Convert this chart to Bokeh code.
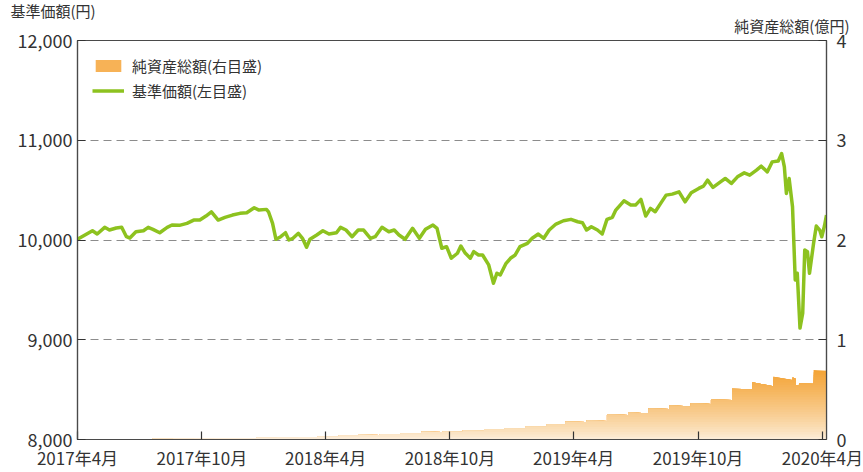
import numpy as np
import pandas as pd
from bokeh.plotting import figure
from bokeh.models import (Range1d, LinearAxis, FixedTicker, NumeralTickFormatter,
                          Legend, LegendItem, Title)
from bokeh.embed import file_html
from bokeh.resources import INLINE

FONT = "Noto Sans CJK JP"

# ---------------- data ----------------
x_start = "2017-04-01"
x_end = "2020-04-07"

x_tick_dates = ["2017-04-01", "2017-10-01", "2018-04-01", "2018-10-01",
                "2019-04-01", "2019-10-01", "2020-04-01"]
x_tick_labels = ["2017年4月", "2017年10月", "2018年4月", "2018年10月",
                 "2019年4月", "2019年10月", "2020年4月"]
nav_ticks = [8000, 9000, 10000, 11000, 12000]
aum_ticks = [0, 1, 2, 3, 4]

# 基準価額: days since 2017-04-01 and value (円)
nav_day = [0, 11, 22, 29, 40, 47, 57, 65, 72, 77,
           86, 97, 104, 111, 121, 132, 139, 150, 161, 171,
           180, 189, 197, 207, 217, 228, 239, 249, 260, 267,
           278, 281, 287, 292, 299, 306, 311, 317, 325, 331,
           337, 342, 352, 361, 370, 381, 387, 395, 404, 413,
           421, 431, 438, 448, 458, 466, 473, 482, 493, 503,
           512, 523, 529, 536, 543, 550, 559, 564, 570, 578,
           583, 590, 596, 605, 612, 617, 622, 630, 637, 644,
           651, 662, 669, 678, 686, 694, 704, 715, 726, 736,
           743, 749, 756, 765, 772, 779, 787, 792, 804, 814,
           821, 829, 836, 843, 850, 858, 866, 875, 885, 894,
           903, 914, 921, 927, 935, 946, 953, 962, 971, 981,
           989, 999, 1006, 1015, 1022, 1031, 1036, 1040, 1043, 1047,
           1052, 1056, 1059, 1063, 1067, 1070, 1074, 1077, 1083, 1087,
           1092, 1095, 1099, 1102]
nav_value = [10007, 10050, 10093, 10060, 10127, 10100, 10120, 10127, 10033, 10020,
             10083, 10093, 10127, 10107, 10073, 10127, 10150, 10147, 10167, 10200,
             10200, 10240, 10283, 10200, 10227, 10250, 10267, 10273, 10323, 10300,
             10307, 10283, 10167, 10007, 10033, 10073, 10000, 10017, 10067, 10017,
             9927, 10007, 10050, 10093, 10060, 10073, 10127, 10100, 10033, 10100,
             10100, 10017, 10033, 10127, 10083, 10100, 10050, 10007, 10117, 10017,
             10107, 10150, 10117, 9917, 9933, 9817, 9867, 9940, 9873, 9817,
             9883, 9850, 9850, 9750, 9567, 9667, 9650, 9760, 9817, 9850,
             9933, 9967, 10017, 10060, 10017, 10100, 10160, 10193, 10207, 10183,
             10173, 10100, 10133, 10100, 10060, 10207, 10227, 10300, 10393, 10350,
             10350, 10407, 10240, 10317, 10283, 10367, 10450, 10460, 10483, 10383,
             10473, 10517, 10540, 10600, 10527, 10583, 10617, 10567, 10633, 10673,
             10650, 10700, 10740, 10683, 10783, 10793, 10867, 10733, 10467, 10617,
             10333, 9600, 9667, 9117, 9267, 9900, 9883, 9667, 9967, 10140,
             10100, 10033, 10140, 10250]

# 純資産総額 (億円): value right after each inflow date and just before the next one
aum_date = ["2017-04-01", "2017-05-20", "2017-06-20", "2017-07-20", "2017-08-20",
            "2017-09-20", "2017-10-20", "2017-11-20", "2017-12-20", "2018-01-20",
            "2018-02-20", "2018-03-20", "2018-04-20", "2018-05-20", "2018-06-20",
            "2018-07-20", "2018-08-20", "2018-09-20", "2018-10-20", "2018-11-20",
            "2018-12-20", "2019-01-20", "2019-02-20", "2019-03-20", "2019-04-20",
            "2019-05-20", "2019-06-20", "2019-07-20", "2019-08-20", "2019-09-20",
            "2019-10-20", "2019-11-20", "2019-12-20", "2020-01-20", "2020-02-17",
            "2020-02-22", "2020-02-27", "2020-03-19"]
aum_open = [0.000, 0.003, 0.005, 0.007, 0.010, 0.012, 0.014, 0.016, 0.019, 0.023,
            0.026, 0.032, 0.040, 0.047, 0.056, 0.063, 0.077, 0.080, 0.090, 0.100,
            0.115, 0.132, 0.153, 0.178, 0.190, 0.250, 0.270, 0.310, 0.340, 0.365,
            0.400, 0.510, 0.573, 0.628, 0.623, 0.540, 0.565, 0.697]
aum_close = [0.002, 0.004, 0.006, 0.008, 0.010, 0.012, 0.014, 0.016, 0.019, 0.022,
             0.025, 0.031, 0.040, 0.046, 0.055, 0.062, 0.076, 0.078, 0.088, 0.099,
             0.113, 0.130, 0.150, 0.176, 0.185, 0.245, 0.262, 0.305, 0.333, 0.357,
             0.396, 0.505, 0.535, 0.597, 0.610, 0.550, 0.560, 0.690]

axis_title_left = "基準価額(円)"
axis_title_right = "純資産総額(億円)"

# ---------------- derived ----------------
t0 = pd.Timestamp(x_start)
t_end = pd.Timestamp(x_end)
nav_x = t0 + pd.to_timedelta(nav_day, unit="D")

step_d = pd.to_datetime(aum_date)
seg_end = list(step_d[1:]) + [t_end]
area_x, area_y = [], []
for d0, d1, vo, vc in zip(step_d, seg_end, aum_open, aum_close):
    area_x += [d0, d1]
    area_y += [vo, vc]
area_x = pd.to_datetime(area_x)
area_y = np.array(area_y)

def ms(ts):
    return pd.Timestamp(ts).value // 10**6

# ---------------- figure ----------------
p = figure(width=863, height=472, x_axis_type="datetime",
           x_range=Range1d(t0, t_end), y_range=Range1d(8000, 12000),
           output_backend="svg", toolbar_location=None,
           min_border_left=77, min_border_right=37,
           min_border_top=40, min_border_bottom=33)
p.background_fill_color = "white"
p.border_fill_color = "white"
p.outline_line_color = "#4a4a4a"
p.outline_line_width = 1.2

p.extra_y_ranges = {"aum": Range1d(0, 4)}

# gradient area built from horizontal colour bands
pale = np.array([253, 240, 222])
orange = np.array([244, 163, 52])
levels = np.linspace(0.025, 0.70, 28)
for k in reversed(range(len(levels))):
    top = levels[k] if k < len(levels) - 1 else 10.0
    frac = min(1.0, ((levels[k] - 0.0125) / 0.70) ** 0.8)
    c = (pale + (orange - pale) * frac).astype(int)
    col = "#%02x%02x%02x" % tuple(c)
    p.varea(x=area_x, y1=np.zeros_like(area_y), y2=np.minimum(area_y, top),
            fill_color=col, y_range_name="aum")

# zero-height area, only used for the legend swatch
legend_area = p.varea(x=[t0, t_end], y1=[0, 0], y2=[0, 0], fill_color="#f7b256",
                      y_range_name="aum")

nav_line = p.line(x=nav_x, y=nav_value, line_color="#8dc21f", line_width=3.5,
                  line_join="round")

# axes
p.xaxis.ticker = FixedTicker(ticks=[ms(d) for d in x_tick_dates], minor_ticks=[])
p.xaxis.major_label_overrides = {ms(d): l for d, l in zip(x_tick_dates, x_tick_labels)}
p.yaxis.ticker = FixedTicker(ticks=nav_ticks, minor_ticks=[])
p.yaxis.formatter = NumeralTickFormatter(format="0,0")

right = LinearAxis(y_range_name="aum", ticker=FixedTicker(ticks=aum_ticks, minor_ticks=[]))
p.add_layout(right, "right")

for ax in [p.xaxis[0], p.yaxis[0], right]:
    ax.axis_line_color = "#4a4a4a"
    ax.axis_line_width = 1.2
    ax.major_tick_line_color = "#333333"
    ax.major_tick_line_width = 1.2
    ax.major_tick_in = 8
    ax.major_tick_out = 0
    ax.minor_tick_in = 0
    ax.minor_tick_out = 0
    ax.major_label_text_font = FONT
    ax.major_label_text_color = "#333333"

p.xaxis.major_label_text_font_size = "17px"
p.xaxis.major_label_standoff = 5
p.yaxis[0].major_label_text_font_size = "18px"
p.yaxis[0].major_label_standoff = 5
right.major_label_text_font_size = "18px"
right.major_label_standoff = 10

# grid
p.xgrid.visible = False
p.ygrid.ticker = FixedTicker(ticks=[9000, 10000, 11000])
p.ygrid.grid_line_color = "#8c8c8c"
p.ygrid.grid_line_dash = "8 5"
p.ygrid.grid_line_width = 1

# axis titles as side-panel titles (right one nearest the frame, left one outer)
t_right = Title(text=axis_title_right, align="right", offset=-23, standoff=6,
                text_font=FONT, text_font_size="15px", text_font_style="normal",
                text_color="#333333", vertical_align="top")
t_left = Title(text=axis_title_left, align="left", offset=-67, standoff=-22,
               text_font=FONT, text_font_size="15px", text_font_style="normal",
               text_color="#333333", vertical_align="top")
p.add_layout(t_right, "above")
p.add_layout(t_left, "above")

# legend
legend = Legend(items=[LegendItem(label="純資産総額(右目盛)", renderers=[legend_area]),
                       LegendItem(label="基準価額(左目盛)", renderers=[nav_line])],
                location="top_left")
legend.background_fill_alpha = 0
legend.border_line_alpha = 0
legend.label_text_font = FONT
legend.label_text_font_size = "15px"
legend.label_text_color = "#333333"
legend.glyph_width = 32
legend.glyph_height = 15
legend.label_height = 20
legend.label_standoff = 8
legend.spacing = 4
legend.padding = 0
legend.margin = 15
p.add_layout(legend)

open("out.html", "w").write(file_html(p, INLINE))
